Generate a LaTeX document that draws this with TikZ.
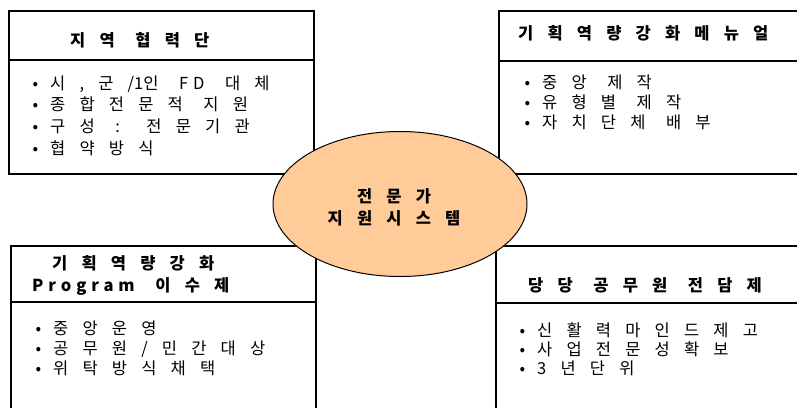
\documentclass[tikz,border=0pt]{standalone}
\usepackage{fontspec}
\usetikzlibrary{shapes.geometric}
\newfontfamily\kr[LetterSpace=86, WordSpace=1.15]{Noto Sans CJK KR}
\newfontfamily\krlat[LetterSpace=30]{Noto Sans CJK KR}
\definecolor{peach}{HTML}{FFCC99}
\newcommand{\bul}{\llap{•\hspace{12pt}}}

\begin{document}
\begin{tikzpicture}[
  x=1pt, y=-1pt,
  panel/.style={draw, line width=1.5pt, anchor=north west, inner sep=0pt},
  rule/.style={line width=1.2pt},
  head/.style={font=\kr\bfseries\fontsize{16.5}{21}\selectfont, anchor=base west, inner sep=0pt},
  item/.style={font=\kr\fontsize{16.5}{21}\selectfont, anchor=base west, inner sep=0pt},
  core/.style={ellipse, draw, line width=1pt, fill=peach, minimum width=254pt,
               minimum height=145pt},
  corelabel/.style={align=center, inner sep=0pt, font=\kr\bfseries\fontsize{16.5}{22}\selectfont}
]
\useasboundingbox (0,0) rectangle (797,407);
\clip (0,0) rectangle (797,407);

% four panels
\node[panel, minimum width=305pt, minimum height=163pt] (tlbox) at (8,10) {};
\node[panel, minimum width=320pt, minimum height=163pt] (trbox) at (498,10) {};
\node[panel, minimum width=305pt, minimum height=200pt] (blbox) at (10,245) {};
\node[panel, minimum width=320pt, minimum height=200pt] (brbox) at (495,245) {};
\draw[rule] (tlbox.west |- 0,60) -- (tlbox.east |- 0,60);
\draw[rule] (trbox.west |- 0,61) -- (trbox.east |- 0,61);
\draw[rule] (blbox.west |- 0,302) -- (blbox.east |- 0,302);
\draw[rule] (brbox.west |- 0,303) -- (brbox.east |- 0,303);

% headers
\node[head] (tlhead) at (70,46) {지역 협력단};
\node[head] (trhead) at (518,39) {기획역량강화메뉴얼};
\node[head] (blhead) at (52,269) {기획역량강화};
\node[head] (blsub) at (32,291) {{\krlat Program} 이수제};
\node[head] (brhead) at (528,291) {당당 공무원 전담제};

% items
\foreach \txt [count=\i] in {{시,군/{\krlat 1}인 {\krlat FD} 대체}, {종합전문적 지원}, {구성 : 전문기관}, {협약방식}}
  \node[item] (tl\i) at (50, 89+21.7*\i-21.7) {\bul\txt};
\foreach \txt [count=\i] in {{중앙 제작}, {유형별 제작}, {자치단체 배부}}
  \node[item] (tr\i) at (542, 88+20*\i-20) {\bul\txt};
\foreach \txt [count=\i] in {{중앙운영}, {공무원/민간대상}, {위탁방식채택}}
  \node[item] (bl\i) at (53, 334+20*\i-20) {\bul\txt};
\foreach \txt [count=\i] in {{신활력마인드제고}, {사업전문성확보}, {3년단위}}
  \node[item] (br\i) at (537, 336+19*\i-19) {\bul\txt};

% centre
\node[core] (core) at (400,204) {};
\node[corelabel] (corelbl) at (394,207) {전문가\\지원시스템};
\end{tikzpicture}
\end{document}
